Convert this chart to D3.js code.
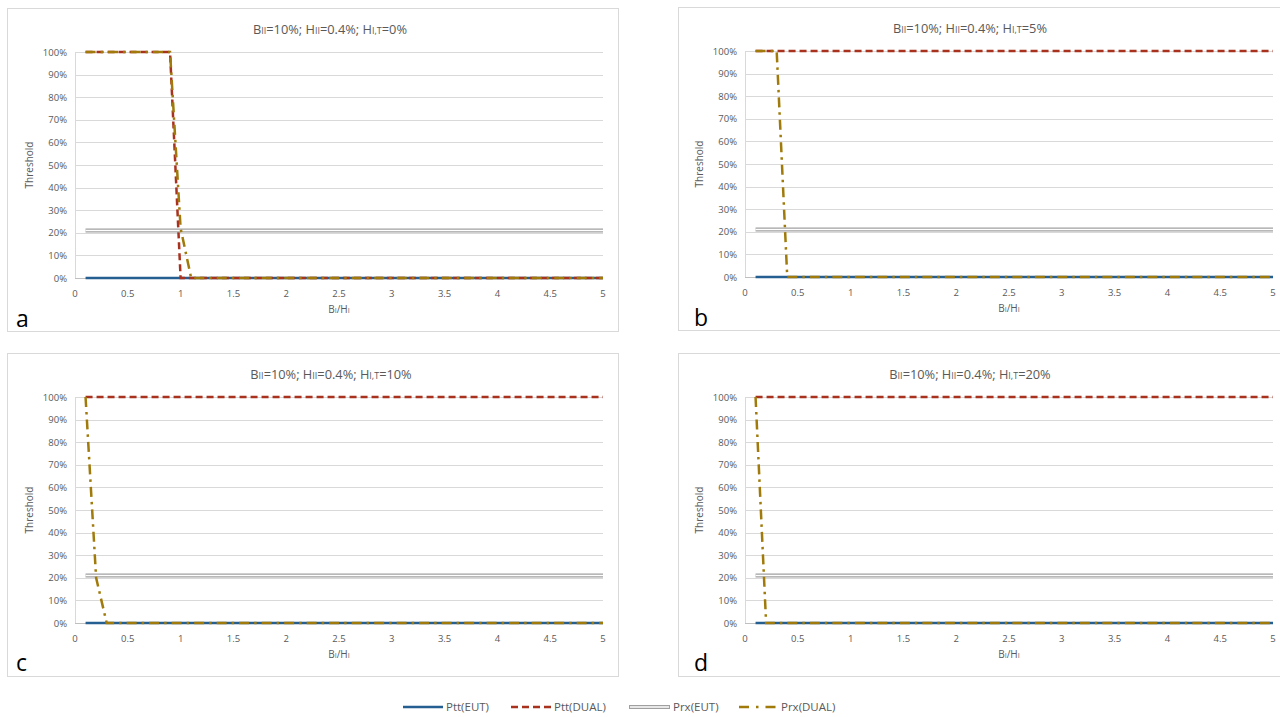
<!DOCTYPE html>
<html>
<head>
<meta charset="utf-8">
<script src="https://cdn.jsdelivr.net/npm/d3@7"></script>
<style>
	body { margin: 0; background: #ffffff; }
	svg { font-family: "Open Sans", "Noto Sans", sans-serif; }
	.tick-label { font-size: 9.5px; fill: #595959; }
	.axis-title { font-size: 10px; fill: #595959; }
	.chart-title { font-size: 12.8px; fill: #595959; }
	.legend-label { font-size: 11.5px; fill: #595959; }
	.panel-letter { font-size: 23px; fill: #000000; }
</style>
</head>
<body>
<svg></svg>
<script>
	// ---- data ----
	var xTicks = [0, 0.5, 1, 1.5, 2, 2.5, 3, 3.5, 4, 4.5, 5];
	var yTicks = [0, 0.1, 0.2, 0.3, 0.4, 0.5, 0.6, 0.7, 0.8, 0.9, 1];
	var panelLetters = ["a", "b", "c", "d"];
	var hitValues = ["0%", "5%", "10%", "20%"];
	var seriesNames = ["Ptt(EUT)", "Ptt(DUAL)", "Prx(EUT)", "Prx(DUAL)"];

	// Ptt(EUT) is flat at 0 in every panel
	var pttEut = [[0.1, 0], [5, 0]];
	// Prx(EUT) is flat at ~21% in every panel
	var prxEut = [[0.1, 0.21], [5, 0.21]];

	// Ptt(DUAL), one array per panel
	var pttDualA = [[0.1, 1], [0.9, 1], [1.0, 0], [5, 0]];
	var pttDualB = [[0.1, 1], [5, 1]];
	var pttDualC = [[0.1, 1], [5, 1]];
	var pttDualD = [[0.1, 1], [5, 1]];

	// Prx(DUAL), one array per panel
	var prxDualA = [[0.1, 1], [0.9, 1], [1.0, 0.22], [1.1, 0], [5, 0]];
	var prxDualB = [[0.1, 1], [0.3, 1], [0.4, 0], [5, 0]];
	var prxDualC = [[0.1, 1], [0.2, 0.2], [0.3, 0], [5, 0]];
	var prxDualD = [[0.1, 1], [0.2, 0], [5, 0]];

	var pttDual = [pttDualA, pttDualB, pttDualC, pttDualD];
	var prxDual = [prxDualA, prxDualB, prxDualC, prxDualD];

	// ---- layout ----
	var W = 1280, H = 717;
	var plotW = 528, plotH = 226;
	var panels = [
		{ bx: 7,   by: 8,   bw: 611, bh: 323, px: 75,  py: 52,  tx: 330, lx: 16,  ly: 327 },
		{ bx: 678, by: 7,   bw: 611, bh: 323, px: 745, py: 51,  tx: 970, lx: 694, ly: 326 },
		{ bx: 7,   by: 353, bw: 611, bh: 323, px: 75,  py: 397, tx: 331, lx: 16,  ly: 671 },
		{ bx: 678, by: 353, bw: 611, bh: 323, px: 745, py: 397, tx: 970, lx: 694, ly: 671 }
	];

	var colBlue = "#255E91", colRed = "#A8321E", colGray = "#A0A0A0", colGold = "#A07A0B";

	var svg = d3.select("svg").attr("width", W).attr("height", H);

	var x = d3.scaleLinear().domain([0, 5]).range([0, plotW]);
	var y = d3.scaleLinear().domain([0, 1]).range([plotH, 0]);
	var line = d3.line().x(function (d) { return x(d[0]); }).y(function (d) { return y(d[1]); });

	function title(sel, hit) {
		var t = sel.append("text").attr("class", "chart-title").attr("text-anchor", "middle");
		t.append("tspan").text("B");
		t.append("tspan").text("II").style("font-size", "9px");
		t.append("tspan").text("=10%; H");
		t.append("tspan").text("II").style("font-size", "9px");
		t.append("tspan").text("=0.4%; H");
		t.append("tspan").text("I,T").style("font-size", "9px");
		t.append("tspan").text("=" + hit);
		return t;
	}

	panels.forEach(function (p, i) {
		svg.append("rect")
			.attr("x", p.bx + 0.5).attr("y", p.by + 0.5)
			.attr("width", p.bw).attr("height", p.bh)
			.attr("fill", "#ffffff").attr("stroke", "#D9D9D9").attr("stroke-width", 1);

		title(svg, hitValues[i]).attr("x", p.tx).attr("y", p.by + 26);

		svg.append("text").attr("class", "panel-letter")
			.attr("x", p.lx).attr("y", p.ly).text(panelLetters[i]);

		var g = svg.append("g").attr("transform", "translate(" + p.px + "," + p.py + ")");

		// grid
		g.selectAll(".grid").data(yTicks.filter(function (d) { return d > 0; }))
			.enter().append("line")
			.attr("x1", 0).attr("x2", plotW)
			.attr("y1", function (d) { return Math.round(y(d)) + 0.5; })
			.attr("y2", function (d) { return Math.round(y(d)) + 0.5; })
			.attr("stroke", "#D9D9D9").attr("stroke-width", 1);
		g.append("line").attr("x1", 0.5).attr("x2", 0.5).attr("y1", 0).attr("y2", plotH)
			.attr("stroke", "#D9D9D9");
		g.append("line").attr("x1", 0).attr("x2", plotW).attr("y1", plotH + 0.5).attr("y2", plotH + 0.5)
			.attr("stroke", "#BFBFBF");

		// tick labels
		g.selectAll(".yl").data(yTicks).enter().append("text")
			.attr("class", "tick-label").attr("text-anchor", "end")
			.attr("x", -8).attr("y", function (d) { return y(d) + 3.5; })
			.text(function (d) { return d3.format(".0%")(d); });
		g.selectAll(".xl").data(xTicks).enter().append("text")
			.attr("class", "tick-label").attr("text-anchor", "middle")
			.attr("x", function (d) { return x(d); }).attr("y", plotH + 19)
			.text(function (d) { return d; });

		// axis titles
		g.append("text").attr("class", "axis-title").attr("text-anchor", "middle")
			.attr("transform", "translate(-42," + (plotH / 2) + ") rotate(-90)")
			.text("Threshold");
		var xt = g.append("text").attr("class", "axis-title").attr("text-anchor", "middle")
			.attr("x", plotW / 2).attr("y", plotH + 35);
		xt.append("tspan").text("B");
		xt.append("tspan").text("I").style("font-size", "7px");
		xt.append("tspan").text("/H");
		xt.append("tspan").text("I").style("font-size", "7px");

		// series
		g.append("path").attr("d", line(pttEut)).attr("fill", "none")
			.attr("stroke", colBlue).attr("stroke-width", 2.5);
		g.append("path").attr("d", line(pttDual[i])).attr("fill", "none")
			.attr("stroke", colRed).attr("stroke-width", 2.5).attr("stroke-dasharray", "7,4");
		g.append("path").attr("d", line(prxEut)).attr("fill", "none")
			.attr("stroke", colGray).attr("stroke-width", 4);
		g.append("path").attr("d", line(prxEut)).attr("fill", "none")
			.attr("stroke", "#ffffff").attr("stroke-width", 1.6);
		g.append("path").attr("d", line(prxDual[i])).attr("fill", "none")
			.attr("stroke", colGold).attr("stroke-width", 2.5).attr("stroke-dasharray", "10,5,2.5,5");
	});

	// legend
	var legendItems = [
		{ x: 403, tx: 446 },
		{ x: 511, tx: 554 },
		{ x: 629, tx: 673 },
		{ x: 739, tx: 781 }
	];
	var ly = 707;
	var lg = svg.append("g");
	legendItems.forEach(function (it, i) {
		if (i === 0) {
			lg.append("line").attr("x1", it.x).attr("x2", it.x + 40).attr("y1", ly).attr("y2", ly)
				.attr("stroke", colBlue).attr("stroke-width", 2.5);
		} else if (i === 1) {
			lg.append("line").attr("x1", it.x).attr("x2", it.x + 41).attr("y1", ly).attr("y2", ly)
				.attr("stroke", colRed).attr("stroke-width", 2.5).attr("stroke-dasharray", "7,4");
		} else if (i === 2) {
			lg.append("line").attr("x1", it.x).attr("x2", it.x + 41).attr("y1", ly).attr("y2", ly)
				.attr("stroke", colGray).attr("stroke-width", 4);
			lg.append("line").attr("x1", it.x + 1).attr("x2", it.x + 40).attr("y1", ly).attr("y2", ly)
				.attr("stroke", "#ffffff").attr("stroke-width", 1.6);
		} else {
			lg.append("line").attr("x1", it.x).attr("x2", it.x + 40).attr("y1", ly).attr("y2", ly)
				.attr("stroke", colGold).attr("stroke-width", 2.5).attr("stroke-dasharray", "10,7,2.5,7");
		}
		lg.append("text").attr("class", "legend-label").attr("x", it.tx).attr("y", ly + 4)
			.text(seriesNames[i]);
	});
</script>
</body>
</html>
